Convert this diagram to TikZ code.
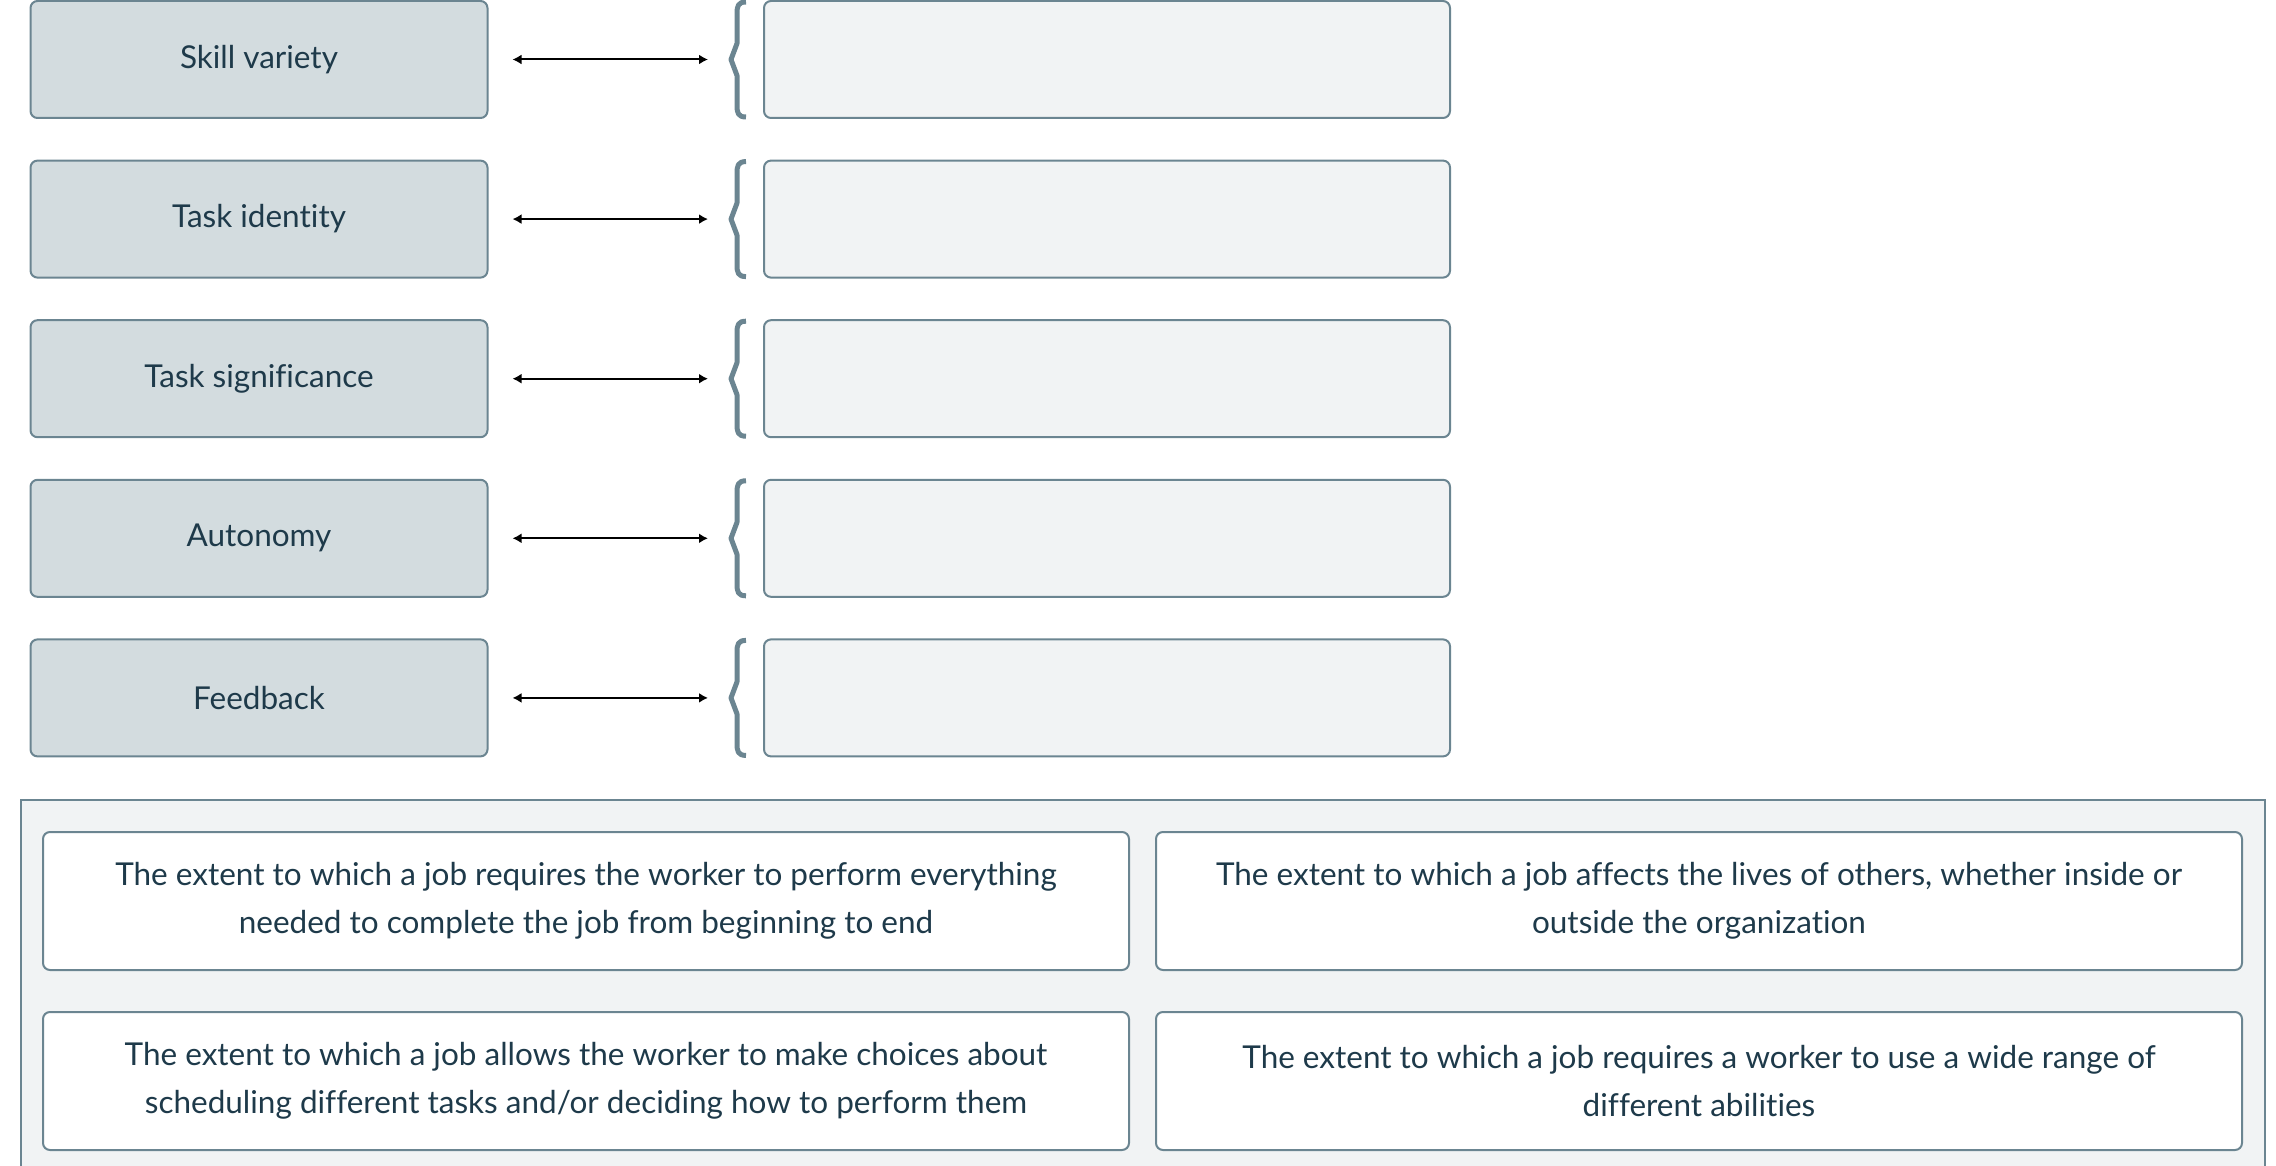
\documentclass[tikz,border=0pt]{standalone}
\usepackage{fontspec}
\setmainfont{Lato}[Ligatures=NoCommon]
\usetikzlibrary{arrows.meta,calc}
\definecolor{inkc}{HTML}{1E3A4A}
\definecolor{edgec}{HTML}{6B8591}
\definecolor{termfill}{HTML}{D3DCDF}
\definecolor{slotfill}{HTML}{F1F3F4}
\definecolor{panelfill}{HTML}{F1F3F4}
\tikzset{
  termbox/.style={draw=edgec, fill=termfill, line width=2pt, rounded corners=7pt,
    minimum width=457pt, minimum height=117pt, inner sep=0pt, text=inkc,
    font=\fontsize{31.5}{38}\selectfont},
  slotbox/.style={draw=edgec, fill=slotfill, line width=2pt, rounded corners=7pt,
    minimum width=686pt, minimum height=117pt, inner sep=0pt},
  cardbox/.style={draw=edgec, fill=white, line width=2pt, rounded corners=7pt,
    minimum width=1086pt, minimum height=138pt, inner sep=0pt, text=inkc, align=center,
    font=\fontsize{31.5}{48}\selectfont},
  panelbox/.style={draw=edgec, fill=panelfill, line width=2pt},
  link/.style={black, line width=2pt, {Latex[length=9pt,width=10pt]}-{Latex[length=9pt,width=10pt]},
    shorten <=24pt, shorten >=55pt},
  bracec/.style={edgec, line width=5pt, line join=round}
}
\begin{document}
\begin{tikzpicture}[x=1pt,y=-1pt]
\useasboundingbox (0,0) rectangle (2276,1166);
\foreach \i/\lab in {1/Skill variety,2/Task identity,3/Task significance,4/Autonomy,5/Feedback}{
  \pgfmathsetmacro{\yc}{59.5+159.6*(\i-1)}
  \node[termbox] (t\i) at (259,\yc) {\lab};
  \node[slotbox] (s\i) at (1107,\yc) {};
  \draw[link] (t\i.east) -- (s\i.west);
  \draw[bracec] ($(s\i.north west)+(-17,2)$) .. controls ($(s\i.north west)+(-25,2)$) and ($(s\i.north west)+(-26,6)$) .. ($(s\i.north west)+(-26,14)$)
     -- ($(s\i.west)+(-26,-16)$) -- ($(s\i.west)+(-32,0)$) -- ($(s\i.west)+(-26,16)$)
     -- ($(s\i.south west)+(-26,-14)$) .. controls ($(s\i.south west)+(-26,-6)$) and ($(s\i.south west)+(-25,-2)$) .. ($(s\i.south west)+(-17,-2)$);
}
\draw[panelbox] (21,800) rectangle (2265,1200);
\node[cardbox] (c1) at (586,901) {The extent to which a job requires the worker to perform everything\\needed to complete the job from beginning to end};
\node[cardbox] (c2) at (1699,901) {The extent to which a job affects the lives of others, whether inside or\\outside the organization};
\node[cardbox] (c3) at (586,1081) {The extent to which a job allows the worker to make choices about\\scheduling different tasks and/or deciding how to perform them};
\node[cardbox] (c4) at (1699,1081) {The extent to which a job requires a worker to use a wide range of\\different abilities};
\end{tikzpicture}
\end{document}
